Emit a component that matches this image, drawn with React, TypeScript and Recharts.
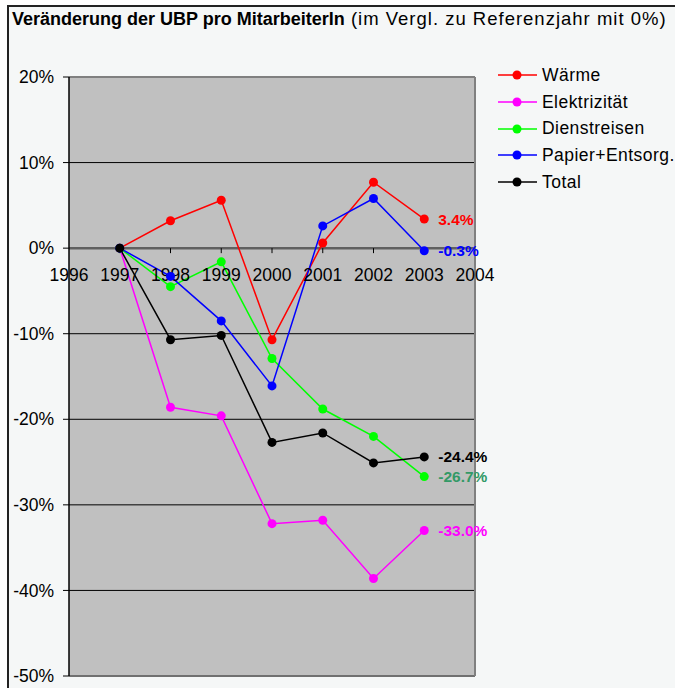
import React from 'react';
import {
  LineChart,
  Line,
  XAxis,
  YAxis,
  CartesianGrid,
  ReferenceLine,
  ReferenceDot,
  LabelList,
} from 'recharts';

const years = [1997, 1998, 1999, 2000, 2001, 2002, 2003];
const axisYears = [1996, 1997, 1998, 1999, 2000, 2001, 2002, 2003, 2004];
const yTicks = [-50, -40, -30, -20, -10, 0, 10, 20];

const waerme = [0, 3.2, 5.6, -10.7, 0.6, 7.7, 3.4];
const elektrizitaet = [0, -18.6, -19.6, -32.2, -31.8, -38.6, -33.0];
const dienstreisen = [0, -4.5, -1.6, -12.9, -18.8, -22.0, -26.7];
const papier = [0, -3.3, -8.5, -16.1, 2.6, 5.8, -0.3];
const total = [0, -10.7, -10.2, -22.7, -21.6, -25.1, -24.4];

const series = [
  { key: 'waerme', name: 'Wärme', color: '#ff0000', label: '#ff0000', values: waerme },
  { key: 'elek', name: 'Elektrizität', color: '#ff00ff', label: '#ff00ff', values: elektrizitaet },
  { key: 'dienst', name: 'Dienstreisen', color: '#00ff00', label: '#339966', values: dienstreisen },
  { key: 'papier', name: 'Papier+Entsorg.', color: '#0000ff', label: '#0000ff', values: papier },
  { key: 'total', name: 'Total', color: '#000000', label: '#000000', values: total },
];

const data = years.map((year, i) => {
  const row: Record<string, number> = { year };
  series.forEach((s) => {
    row[s.key] = s.values[i];
  });
  return row;
});

const FONT = '"Liberation Sans", Arial, sans-serif';

// label only the final point of each series
const endLabel = (color: string) => (props: any) => {
  const { x, y, value, index } = props;
  if (index !== years.length - 1) return null;
  return (
    <text
      x={x + 14}
      y={y}
      dy={5.5}
      fill={color}
      fontSize={15.5}
      fontWeight="bold"
      fontFamily={FONT}
    >
      {`${Number(value).toFixed(1)}%`}
    </text>
  );
};

// year labels sit on the zero line, not at the bottom of the plot
const yearTick = (year: number) => (props: any) => {
  const { cx, cy } = props;
  return (
    <g>
      {year !== 1996 && year !== 2004 && (
        <line x1={cx} y1={cy} x2={cx} y2={cy + 5} stroke="#000" strokeWidth={1} />
      )}
      <text x={cx} y={cy + 33} textAnchor="middle" fontSize={17.5} fontFamily={FONT} fill="#000">
        {year}
      </text>
    </g>
  );
};

function SeriesLegend() {
  return (
    <div
      style={{
        position: 'absolute',
        left: 498,
        top: 62,
        fontFamily: FONT,
        fontSize: 17.5,
        letterSpacing: 0.45,
      }}
    >
      {series.map((s) => (
        <div key={s.key} style={{ display: 'flex', alignItems: 'center', height: 26.7 }}>
          <svg width={44} height={12} style={{ flex: 'none' }}>
            <line x1={0} y1={6} x2={39} y2={6} stroke={s.color} strokeWidth={1.5} />
            <circle cx={19} cy={6} r={4.5} fill={s.color} />
          </svg>
          <span style={{ color: '#000', whiteSpace: 'nowrap' }}>{s.name}</span>
        </div>
      ))}
    </div>
  );
}

export default function App() {
  return (
    <div
      style={{
        position: 'absolute',
        left: 0,
        top: 0,
        width: 675,
        height: 688,
        overflow: 'hidden',
        background: '#ffffff',
      }}
    >
      <div
        style={{
          position: 'absolute',
          left: 7,
          top: 5,
          width: 740,
          height: 740,
          border: '2px solid #222',
          background: '#f5f7f7',
        }}
      />
      <div
        style={{
          position: 'absolute',
          left: 12,
          top: 8,
          fontFamily: FONT,
          fontSize: 18,
          whiteSpace: 'nowrap',
          color: '#000',
        }}
      >
        <b style={{ letterSpacing: 0 }}>Veränderung der UBP pro MitarbeiterIn</b>
        <span style={{ fontSize: 18.5, letterSpacing: 1.0 }}> (im Vergl. zu Referenzjahr mit 0%)</span>
      </div>
      <div style={{ position: 'absolute', left: 0, top: 0 }}>
        <LineChart
          width={675}
          height={688}
          data={data}
          margin={{ top: 77, right: 200, bottom: 12, left: 0 }}
        >
          <CartesianGrid vertical={false} stroke="#000" fill="#c0c0c0" strokeWidth={1} />
          <XAxis
            dataKey="year"
            type="number"
            domain={[1996, 2004]}
            ticks={axisYears}
            hide
          />
          <YAxis
            width={69}
            domain={[-50, 20]}
            ticks={yTicks}
            interval={0}
            tickFormatter={(v: number) => `${v}%`}
            tick={{ fill: '#000', fontSize: 17.5, fontFamily: FONT }}
            tickSize={6}
            tickMargin={9}
            tickLine={{ stroke: '#000' }}
            axisLine={{ stroke: '#000', strokeWidth: 1.5 }}
          />
          <ReferenceLine y={20} stroke="#808080" strokeWidth={2} />
          <ReferenceLine y={-50} stroke="#707070" strokeWidth={2} />
          <ReferenceLine x={2004} stroke="#808080" strokeWidth={2} />
          <ReferenceLine y={0} stroke="#606060" strokeWidth={2.5} />
          {axisYears.map((yr) => (
            <ReferenceDot
              key={yr}
              x={yr}
              y={0}
              r={0}
              ifOverflow="visible"
              shape={yearTick(yr)}
            />
          ))}
          {series.map((s) => (
            <Line
              key={s.key}
              dataKey={s.key}
              name={s.name}
              stroke={s.color}
              strokeWidth={1.5}
              dot={{ r: 4.5, fill: s.color, stroke: 'none' }}
              activeDot={false}
              isAnimationActive={false}
            >
              <LabelList dataKey={s.key} content={endLabel(s.label)} />
            </Line>
          ))}
        </LineChart>
      </div>
      <SeriesLegend />
    </div>
  );
}
